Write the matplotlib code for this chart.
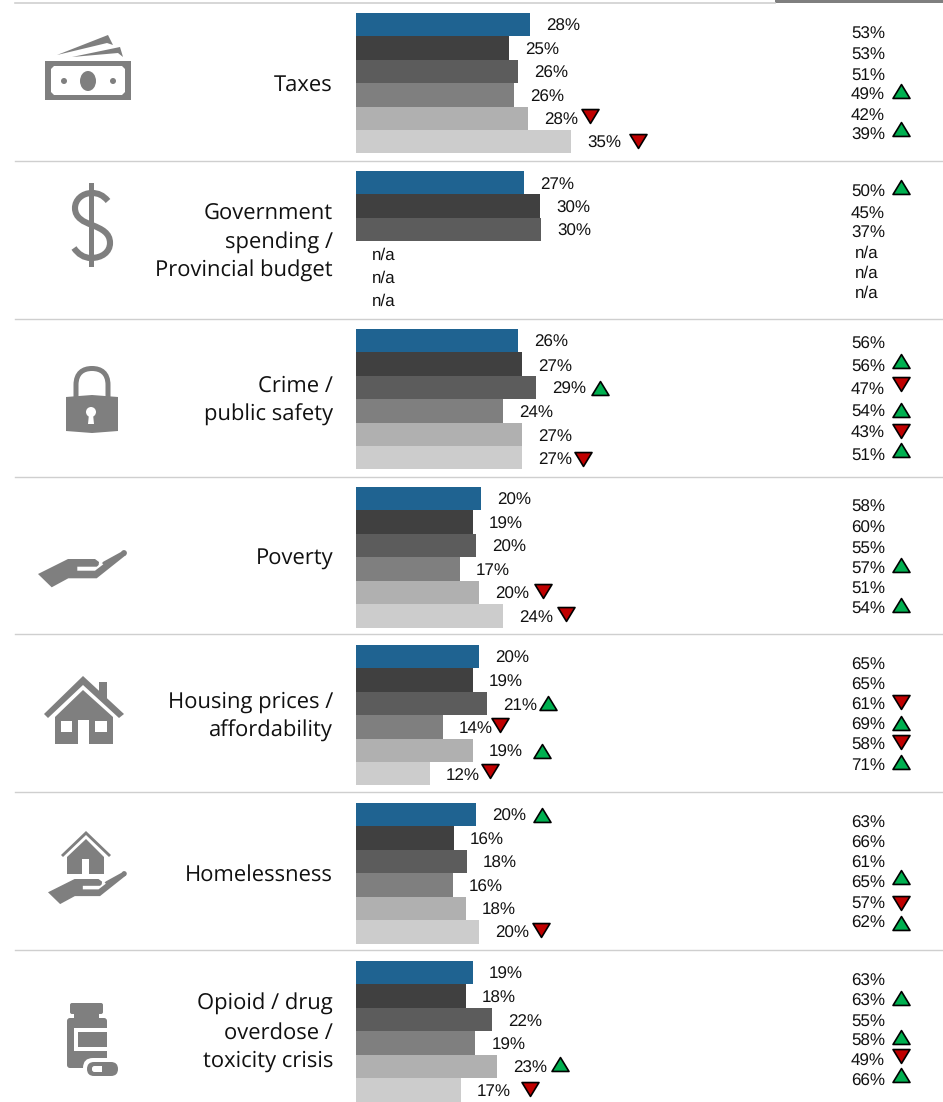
import matplotlib

matplotlib.use("Agg")
import matplotlib.pyplot as plt
from matplotlib.patches import Circle, Ellipse, FancyBboxPatch, PathPatch, Polygon, Rectangle
from matplotlib.path import Path
from matplotlib.transforms import offset_copy

WIDTH, HEIGHT = 943, 1102
NA = None

categories = [
    "Taxes",
    "Government\nspending /\nProvincial budget",
    "Crime /\npublic safety",
    "Poverty",
    "Housing prices /\naffordability",
    "Homelessness",
    "Opioid / drug\noverdose /\ntoxicity crisis",
]

bar_values = [
    [28.3, 24.9, 26.3, 25.7, 28.0, 35.0],
    [27.3, 29.9, 30.1, NA, NA, NA],
    [26.3, 27.0, 29.3, 23.9, 27.0, 27.0],
    [20.4, 19.0, 19.5, 16.9, 20.0, 23.9],
    [20.0, 19.0, 21.3, 14.1, 19.0, 12.0],
    [19.5, 15.9, 18.0, 15.8, 17.9, 20.0],
    [19.0, 17.9, 22.1, 19.4, 22.9, 17.1],
]
right_values = [
    [53, 53, 51, 49, 42, 39],
    [50, 45, 37, NA, NA, NA],
    [56, 56, 47, 54, 43, 51],
    [58, 60, 55, 57, 51, 54],
    [65, 65, 61, 69, 58, 71],
    [63, 66, 61, 65, 57, 62],
    [63, 63, 55, 58, 49, 66],
]
# +1 significantly up, -1 significantly down
bar_flags = [
    [0, 0, 0, 0, -1, -1],
    [0, 0, 0, 0, 0, 0],
    [0, 0, 1, 0, 0, -1],
    [0, 0, 0, 0, -1, -1],
    [0, 0, 1, -1, 1, -1],
    [1, 0, 0, 0, 0, -1],
    [0, 0, 0, 0, 1, -1],
]
right_flags = [
    [0, 0, 0, 1, 0, 1],
    [1, 0, 0, 0, 0, 0],
    [0, 1, -1, 1, -1, 1],
    [0, 0, 0, 1, 0, 1],
    [0, 0, -1, 1, -1, 1],
    [0, 0, 0, 1, -1, 1],
    [0, 1, 0, 1, -1, 1],
]

# layout, in pixels
bar_flag_dx = [
    [0, 0, 0, 0, 62, 67],
    [0, 0, 0, 0, 0, 0],
    [0, 0, 64, 0, 0, 61],
    [0, 0, 0, 0, 64, 63],
    [0, 0, 61, 57, 69, 60],
    [66, 0, 0, 0, 0, 62],
    [0, 0, 0, 0, 63, 69],
]
bar_flag_dy = [
    [0, 0, 0, 0, -2, -1],
    [0, 0, 0, 0, 0, 0],
    [0, 0, 0, 0, 0, 1],
    [0, 0, 0, 0, -1, -2],
    [0, 0, -1, -2, 1, -3],
    [0, 0, 0, 0, 0, -2],
    [0, 0, 0, 0, -2, -1],
]
right_flag_dy = [
    [0, 0, 0, -3, 0, -5],
    [-4, 0, 0, 0, 0, 0],
    [0, -4, -3, 0, -1, -4],
    [0, 0, 0, -2, 0, -2],
    [0, 0, -2, -1, -2, -2],
    [0, 0, 0, -5, 1, 1],
    [0, -2, 0, -3, -4, -5],
]
panel_tops = [13, 171, 329, 487, 645, 803, 961]
right_tops = [33, 191, 343, 506, 664, 822, 980]
right_pitch = [20.2, 20.2, 22.2, 20.2, 20.0, 20.0, 20.0]
divider_ys = [161, 319, 477, 634, 792, 950]

BAR_LEFT = 356
PANEL_H = 140.5
PANEL_W = 400
PX_PER_PCT = 6.15
RIGHT_X = 851
FLAG_X = 901

bar_colors = ["#1F6391", "#404040", "#5C5C5C", "#7F7F7F", "#B0B0B0", "#CCCCCC"]
ICON = "#7F7F7F"
UP, DOWN = "#00B050", "#C00000"
NUM_FONT = "Liberation Sans"
LABEL_FONT = "Open Sans"
NUM_SIZE = 12.0
TEXT_COLOR = "#111111"

plt.rcParams["text.hinting"] = "no_hinting"
plt.rcParams["text.hinting_factor"] = 1

UP_MARK = Path([(-1, -0.82), (1, -0.82), (0, 0.82), (-1, -0.82)], closed=True)
DOWN_MARK = Path([(-1, 0.82), (1, 0.82), (0, -0.82), (-1, 0.82)], closed=True)


def flag_style(flag):
    return dict(
        marker=UP_MARK if flag > 0 else DOWN_MARK,
        markersize=12.2,
        markerfacecolor=UP if flag > 0 else DOWN,
        markeredgecolor="black",
        markeredgewidth=1.2,
        linestyle="none",
        clip_on=False,
        zorder=5,
    )


def poly(ax, points, color=ICON):
    ax.add_patch(Polygon(points, closed=True, facecolor=color, edgecolor="none"))


def rect(ax, x0, y0, x1, y1, color=ICON):
    ax.add_patch(Rectangle((x0, y0), x1 - x0, y1 - y0, facecolor=color, edgecolor="none"))


def rounded(ax, x0, y0, x1, y1, r, color=ICON):
    ax.add_patch(
        FancyBboxPatch(
            (x0 + r, y0 + r),
            x1 - x0 - 2 * r,
            y1 - y0 - 2 * r,
            boxstyle=f"round,pad={r},rounding_size={r}",
            facecolor=color,
            edgecolor="none",
        )
    )


def draw_cash(ax):
    poly(ax, [(57, 55), (108, 35), (113, 45), (107, 43)])
    poly(ax, [(72, 57), (120, 47), (123, 57), (118, 53)])
    rect(ax, 45, 61, 131, 100)
    poly(ax, [(54, 66), (122, 66), (125, 69), (125, 92), (122, 95), (54, 95), (51, 92), (51, 69)], "white")
    ax.add_patch(Ellipse((88, 81), 16, 20, facecolor=ICON, edgecolor="none"))
    ax.add_patch(Circle((64, 81), 3, facecolor=ICON, edgecolor="none"))
    ax.add_patch(Circle((113, 81), 3, facecolor=ICON, edgecolor="none"))


def draw_dollar(ax):
    rect(ax, 88.5, 183, 94, 267)
    verts = [
        (108, 201),
        (103, 195), (98, 193), (92, 193),
        (82, 193), (75, 200), (75, 208),
        (75, 218), (84, 222), (92, 225),
        (102, 229), (110, 233), (110, 243),
        (110, 252), (102, 258), (91, 258),
        (84, 258), (78, 254), (74, 248),
    ]
    codes = [Path.MOVETO] + [Path.CURVE4] * 18
    ax.add_patch(PathPatch(Path(verts, codes), facecolor="none", edgecolor=ICON, linewidth=4.4))


def draw_lock(ax):
    verts = [(76, 398), (76, 385), (76, 373), (83, 368.5), (92, 368.5), (101, 368.5), (108, 373), (108, 385), (108, 398)]
    codes = [Path.MOVETO, Path.LINETO, Path.CURVE4, Path.CURVE4, Path.CURVE4, Path.CURVE4, Path.CURVE4, Path.LINETO, Path.LINETO]
    ax.add_patch(PathPatch(Path(verts, codes), facecolor="none", edgecolor=ICON, linewidth=3.6))
    poly(ax, [(66, 397), (92, 395), (118, 397), (118, 431), (92, 433), (66, 431)])
    ax.add_patch(Circle((91, 412), 5, facecolor="white", edgecolor="none"))
    poly(ax, [(89, 414), (93, 414), (94, 424), (88, 424)], "white")


def draw_hand(ax, x0, y0, s):
    pts = [
        (0, 15), (30, 0), (57, 0), (61, 3), (60.5, 7.7), (65.3, 2.7), (85.3, -8.3), (88, -4),
        (58.7, 19.3), (30.3, 19.3), (13.7, 28.3),
    ]
    poly(ax, [(x0 + s * x, y0 + s * y) for x, y in pts])
    ax.add_patch(Circle((x0 + s * 86, y0 + s * -6), s * 2.9, facecolor=ICON, edgecolor="none"))
    slit = [(39.3, 7.7), (58.7, 7.7), (63.7, 3.8), (65.3, 5.3), (57, 11.7), (39.3, 11.7)]
    poly(ax, [(x0 + s * x, y0 + s * y) for x, y in slit], "white")


def draw_house(ax):
    poly(ax, [(99, 682), (107, 682), (107, 700), (99, 692)])
    poly(ax, [(83, 676), (124, 714), (119, 718), (83, 685), (48, 718), (44, 714)])
    poly(ax, [(83, 690), (113, 717), (113, 744), (89, 744), (89, 720), (78, 720), (78, 744), (55, 744), (55, 717)])
    rect(ax, 61, 721, 72, 732, "white")
    rect(ax, 95, 721, 107, 732, "white")


def draw_home_hand(ax):
    poly(ax, [(86, 831), (111, 855), (109, 857), (86, 835), (63, 857), (61, 855)])
    poly(ax, [(86, 839), (104, 857), (104, 874), (89, 874), (89, 859), (82, 859), (82, 874), (67, 874), (67, 857)])
    draw_hand(ax, 48, 879, 0.886)


def draw_bottle(ax):
    rounded(ax, 70, 1003, 103, 1014, 2)
    rect(ax, 74, 1012, 99, 1020)
    rounded(ax, 67, 1018, 107, 1068, 3)
    rect(ax, 74, 1028, 108, 1051, "white")
    rect(ax, 78, 1032, 107, 1047)
    rounded(ax, 83, 1058, 122, 1080, 10, "white")
    rounded(ax, 87, 1062, 118, 1076, 7)
    rounded(ax, 92, 1066, 106, 1072, 2.5, "white")
    rect(ax, 102, 1065, 107, 1073)


icon_drawers = [
    draw_cash,
    draw_dollar,
    draw_lock,
    lambda a: draw_hand(a, 38, 559, 1.0),
    draw_house,
    draw_home_hand,
    draw_bottle,
]

fig = plt.figure(figsize=(WIDTH / 100, HEIGHT / 100), dpi=100, facecolor="white")

page = fig.add_axes([0, 0, 1, 1])
page.set_xlim(0, WIDTH)
page.set_ylim(HEIGHT, 0)
page.axis("off")

page.plot([15, 775], [3, 3], color="#D0D0D0", linewidth=1.2)
rect(page, 775, 0, WIDTH, 3, "#7F7F7F")
for y in divider_ys:
    page.plot([15, WIDTH], [y, y], color="#CFCFCF", linewidth=1.0)

for i, label in enumerate(categories):
    top = panel_tops[i]
    page.text(
        333, top + PANEL_H / 2 + 1.5, label, ha="right", va="center", family=LABEL_FONT,
        fontsize=15.6, color=TEXT_COLOR, linespacing=1.4,
    )
    icon_drawers[i](page)

    ax = fig.add_axes([BAR_LEFT / WIDTH, 1 - (top + PANEL_H) / HEIGHT, PANEL_W / WIDTH, PANEL_H / HEIGHT])
    ax.set_xlim(0, PANEL_W / PX_PER_PCT)
    ax.set_ylim(5.5, -0.5)
    ax.axis("off")
    ax.patch.set_alpha(0)

    for row, value in enumerate(bar_values[i]):
        end = 0 if value is None else value
        if value is not None:
            ax.barh(row, value, height=1.0, color=bar_colors[row], edgecolor="none")
        text = "n/a" if value is None else f"{value:.0f}%"
        ax.annotate(
            text, (end, row), xytext=(16, -2), textcoords="offset pixels", ha="left",
            va="center", family=NUM_FONT, fontsize=NUM_SIZE, color=TEXT_COLOR,
        )
        flag = bar_flags[i][row]
        if flag:
            shift = offset_copy(
                ax.transData, fig=fig, x=bar_flag_dx[i][row], y=-bar_flag_dy[i][row], units="dots"
            )
            ax.plot([end], [row], transform=shift, **flag_style(flag))

    for row, value in enumerate(right_values[i]):
        y = right_tops[i] + right_pitch[i] * row
        text = "n/a" if value is None else f"{value}%"
        x = RIGHT_X + 4 if value is None else RIGHT_X
        page.text(x, y + 1.8, text, ha="left", va="center", family=NUM_FONT, fontsize=NUM_SIZE, color=TEXT_COLOR)
        flag = right_flags[i][row]
        if flag:
            page.plot([FLAG_X], [y + right_flag_dy[i][row]], **flag_style(flag))

fig.savefig("out.png", dpi=100)
plt.close(fig)
